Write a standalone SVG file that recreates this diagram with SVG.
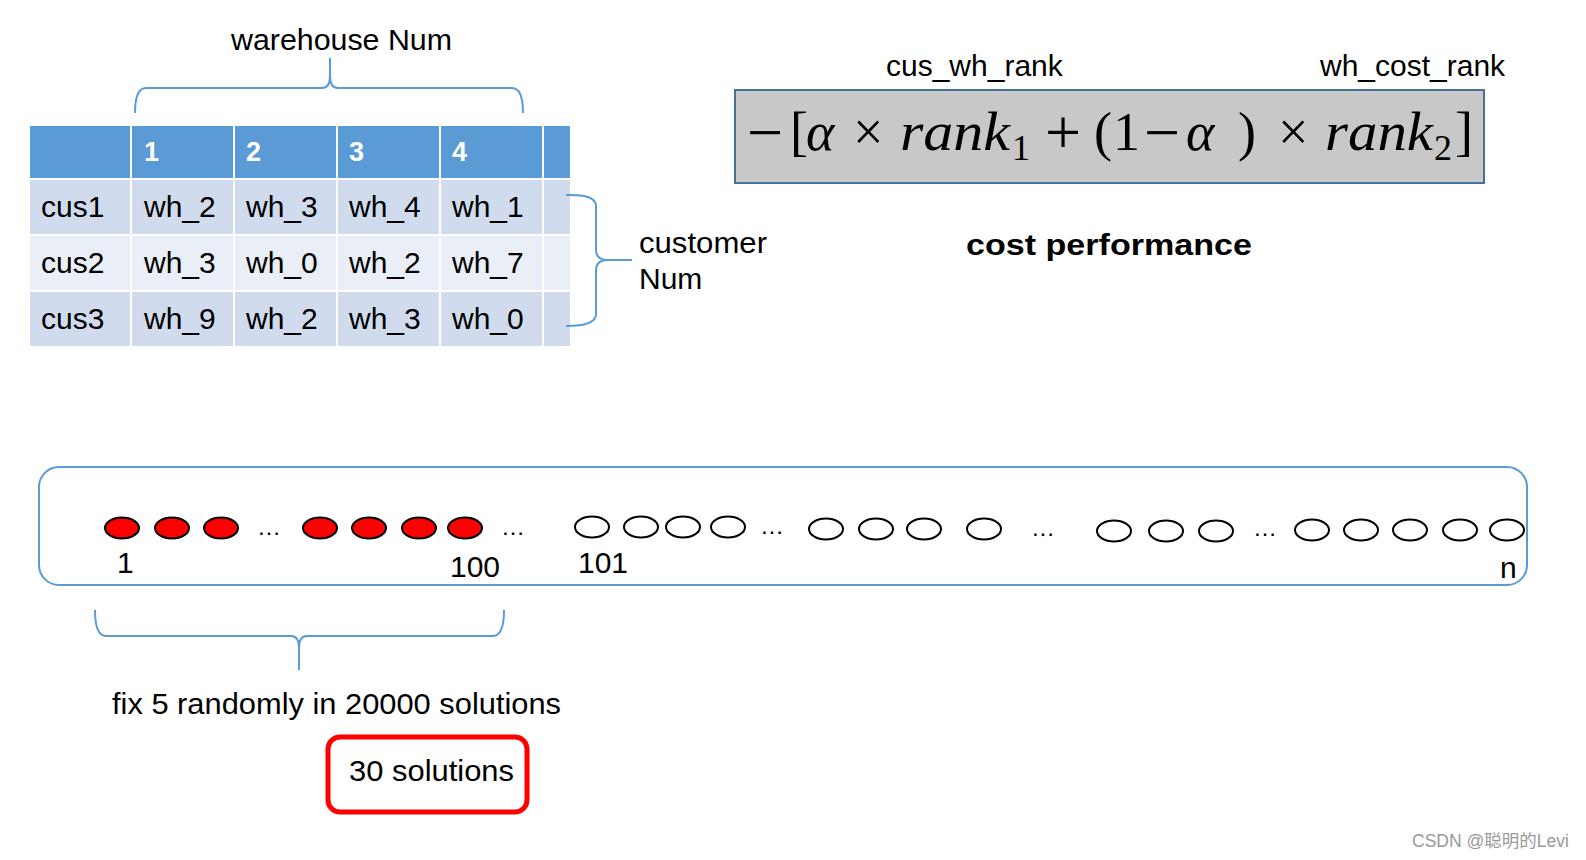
<svg xmlns="http://www.w3.org/2000/svg" width="1586" height="860" viewBox="0 0 1586 860">
<style>
  .t { font-family: "Liberation Sans", Arial, sans-serif; font-size: 30px; fill: #000; }
  .hd { font-family: "Liberation Sans", Arial, sans-serif; font-size: 27px; font-weight: bold; fill: #fff; }
  .h { fill: #5B9BD5; }
  .r1 { fill: #D0DBEE; }
  .r2 { fill: #E9EEF7; }
  .brace { fill: none; stroke: #5B9BD5; stroke-width: 2; }
  .red { fill: #FF0000; stroke: #000; stroke-width: 2; }
  .wht { fill: #fff; stroke: #000; stroke-width: 2; }
  .dots { font-family: "Liberation Sans", Arial, sans-serif; font-size: 24px; fill: #000; }
  .m { font-family: "Liberation Serif", "Times New Roman", serif; font-size: 54px; fill: #000; }
  .mo { font-family: "Liberation Serif", "Times New Roman", serif; font-size: 64px; fill: #000; }
  .mi { font-family: "Liberation Serif", "Times New Roman", serif; font-size: 54px; font-style: italic; fill: #000; }
  .ms { font-family: "Liberation Serif", "Times New Roman", serif; font-size: 36px; fill: #000; }
</style>
<rect width="1586" height="860" fill="#fff"/>

<g id="table">
  <rect class="h" x="30" y="126" width="100" height="52"/>
  <rect class="h" x="132" y="126" width="101" height="52"/>
  <rect class="h" x="235" y="126" width="101" height="52"/>
  <rect class="h" x="338" y="126" width="101" height="52"/>
  <rect class="h" x="441" y="126" width="101" height="52"/>
  <rect class="h" x="544" y="126" width="26" height="52"/>
  <rect class="r1" x="30" y="180" width="100" height="54"/>
  <rect class="r1" x="132" y="180" width="101" height="54"/>
  <rect class="r1" x="235" y="180" width="101" height="54"/>
  <rect class="r1" x="338" y="180" width="101" height="54"/>
  <rect class="r1" x="441" y="180" width="101" height="54"/>
  <rect class="r1" x="544" y="180" width="26" height="54"/>
  <rect class="r2" x="30" y="236" width="100" height="54"/>
  <rect class="r2" x="132" y="236" width="101" height="54"/>
  <rect class="r2" x="235" y="236" width="101" height="54"/>
  <rect class="r2" x="338" y="236" width="101" height="54"/>
  <rect class="r2" x="441" y="236" width="101" height="54"/>
  <rect class="r2" x="544" y="236" width="26" height="54"/>
  <rect class="r1" x="30" y="292" width="100" height="54"/>
  <rect class="r1" x="132" y="292" width="101" height="54"/>
  <rect class="r1" x="235" y="292" width="101" height="54"/>
  <rect class="r1" x="338" y="292" width="101" height="54"/>
  <rect class="r1" x="441" y="292" width="101" height="54"/>
  <rect class="r1" x="544" y="292" width="26" height="54"/>
  <text class="hd" x="144" y="161">1</text>
  <text class="hd" x="246" y="161">2</text>
  <text class="hd" x="349" y="161">3</text>
  <text class="hd" x="452" y="161">4</text>
  <text class="t" x="41" y="217">cus1</text>
  <text class="t" x="144" y="217">wh_2</text>
  <text class="t" x="246" y="217">wh_3</text>
  <text class="t" x="349" y="217">wh_4</text>
  <text class="t" x="452" y="217">wh_1</text>
  <text class="t" x="41" y="273">cus2</text>
  <text class="t" x="144" y="273">wh_3</text>
  <text class="t" x="246" y="273">wh_0</text>
  <text class="t" x="349" y="273">wh_2</text>
  <text class="t" x="452" y="273">wh_7</text>
  <text class="t" x="41" y="329">cus3</text>
  <text class="t" x="144" y="329">wh_9</text>
  <text class="t" x="246" y="329">wh_2</text>
  <text class="t" x="349" y="329">wh_3</text>
  <text class="t" x="452" y="329">wh_0</text>
</g>

<g id="warehouse-label">
  <text class="t" x="231" y="50" textLength="221" lengthAdjust="spacingAndGlyphs">warehouse Num</text>
</g>
<g id="customer-label">
  <text class="t" x="639" y="253" textLength="128" lengthAdjust="spacingAndGlyphs">customer</text>
  <text class="t" x="639" y="289">Num</text>
</g>

<g id="formula">
  <rect x="735" y="90" width="749" height="93" fill="#C8C8C8" stroke="#41719C" stroke-width="2"/>
  <text class="mo" x="747" y="154">−</text>
  <text class="m" x="790" y="150">[</text>
  <text class="mi" x="806" y="150">α</text>
  <text class="m" x="853" y="150">×</text>
  <text class="mi" x="900" y="150" textLength="110" lengthAdjust="spacingAndGlyphs">rank</text>
  <text class="ms" x="1012" y="160">1</text>
  <text class="mo" x="1045" y="154">+</text>
  <text class="m" x="1094" y="150">(</text>
  <text class="m" x="1113" y="150">1</text>
  <text class="mo" x="1144" y="154">−</text>
  <text class="mi" x="1186" y="150">α</text>
  <text class="m" x="1238" y="150">)</text>
  <text class="m" x="1278" y="150">×</text>
  <text class="mi" x="1325" y="150" textLength="108" lengthAdjust="spacingAndGlyphs">rank</text>
  <text class="ms" x="1434" y="160">2</text>
  <text class="m" x="1455" y="150">]</text>
</g>
<g id="rank-labels">
  <text class="t" x="886" y="76">cus_wh_rank</text>
  <text class="t" x="1320" y="76">wh_cost_rank</text>
</g>
<g id="cost-performance">
  <text class="t" x="966" y="255" font-weight="bold" font-size="34" textLength="286" lengthAdjust="spacingAndGlyphs">cost performance</text>
</g>

<g id="solutions">
  <rect x="39" y="467" width="1488" height="118" rx="20" ry="20" fill="none" stroke="#5B9BD5" stroke-width="2"/>
  <ellipse class="red" cx="122" cy="528" rx="17" ry="10.5"/>
  <ellipse class="red" cx="172" cy="528" rx="17" ry="10.5"/>
  <ellipse class="red" cx="221" cy="528" rx="17" ry="10.5"/>
  <ellipse class="red" cx="320" cy="528" rx="17" ry="10.5"/>
  <ellipse class="red" cx="369" cy="528" rx="17" ry="10.5"/>
  <ellipse class="red" cx="419" cy="528" rx="17" ry="10.5"/>
  <ellipse class="red" cx="465" cy="528" rx="17" ry="10.5"/>
  <text class="dots" x="257" y="535">…</text>
  <text class="dots" x="501" y="535">…</text>
  <ellipse class="wht" cx="592" cy="527" rx="17" ry="10.5"/>
  <ellipse class="wht" cx="641" cy="527" rx="17" ry="10.5"/>
  <ellipse class="wht" cx="683" cy="527" rx="17" ry="10.5"/>
  <ellipse class="wht" cx="728" cy="527" rx="17" ry="10.5"/>
  <text class="dots" x="760" y="534">…</text>
  <ellipse class="wht" cx="826" cy="529" rx="17" ry="10.5"/>
  <ellipse class="wht" cx="876" cy="529" rx="17" ry="10.5"/>
  <ellipse class="wht" cx="924" cy="529" rx="17" ry="10.5"/>
  <ellipse class="wht" cx="984" cy="529" rx="17" ry="10.5"/>
  <text class="dots" x="1031" y="536">…</text>
  <ellipse class="wht" cx="1114" cy="531" rx="17" ry="10.5"/>
  <ellipse class="wht" cx="1166" cy="531" rx="17" ry="10.5"/>
  <ellipse class="wht" cx="1216" cy="531" rx="17" ry="10.5"/>
  <text class="dots" x="1253" y="536">…</text>
  <ellipse class="wht" cx="1312" cy="530" rx="17" ry="10.5"/>
  <ellipse class="wht" cx="1361" cy="530" rx="17" ry="10.5"/>
  <ellipse class="wht" cx="1410" cy="530" rx="17" ry="10.5"/>
  <ellipse class="wht" cx="1460" cy="530" rx="17" ry="10.5"/>
  <ellipse class="wht" cx="1507" cy="530" rx="17" ry="10.5"/>
  <text class="t" x="117" y="573">1</text>
  <text class="t" x="450" y="577">100</text>
  <text class="t" x="578" y="573">101</text>
  <text class="t" x="1500" y="578">n</text>
</g>

<g id="fix-label">
  <text class="t" x="112" y="714" font-size="31" textLength="449" lengthAdjust="spacingAndGlyphs">fix 5 randomly in 20000 solutions</text>
</g>
<g id="thirty-solutions">
  <rect x="328" y="737" width="199" height="75" rx="12" ry="12" fill="none" stroke="#FF0000" stroke-width="5"/>
  <text class="t" x="349" y="781" textLength="165" lengthAdjust="spacingAndGlyphs">30 solutions</text>
</g>

<g id="connectors">
  <path class="brace" d="M135,113 Q135,88 146,88 L322,88 Q330,88 330,76 L330,58 M330,76 Q330,88 338,88 L512,88 Q523,88 523,113"/>
  <path class="brace" d="M566,195 Q596,194 596,206 L596,250 Q596,260 608,260 L632,260 M608,260 Q596,260 596,270 L596,314 Q596,326 566,326"/>
  <path class="brace" d="M95,610 Q95,636 106,636 L291,636 Q299,636 299,648 L299,670 M299,648 Q299,636 307,636 L493,636 Q504,636 504,610"/>
</g>

<g id="watermark">
  <text x="1412" y="847" font-family="Liberation Sans, 'Noto Sans CJK SC', sans-serif" font-size="17.5" fill="#999">CSDN @聪明的Levi</text>
</g>
</svg>
